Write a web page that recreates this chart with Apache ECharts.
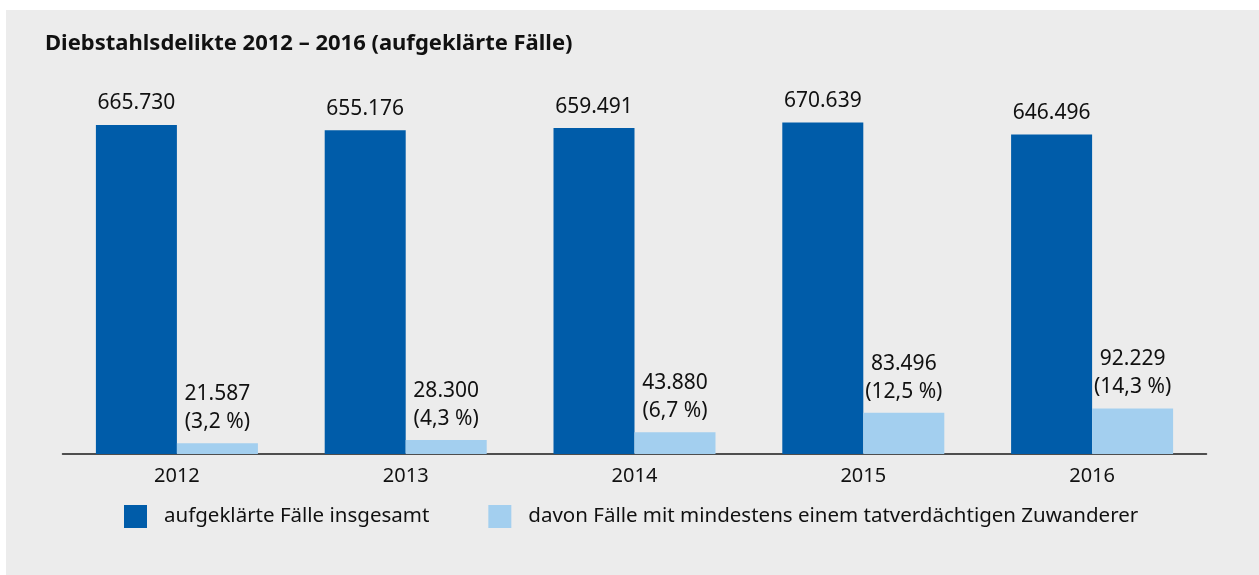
<!DOCTYPE html>
<html>
<head>
<meta charset="utf-8">
<script src="https://cdn.jsdelivr.net/npm/echarts@6/dist/echarts.min.js"></script>
<style>
html,body{margin:0;padding:0;background:#fff;}
#c{width:1259px;height:575px;}
</style>
</head>
<body>
<div id="c"></div>
<script>
var categories = ['2012','2013','2014','2015','2016'];
var totalCases = [665730, 655176, 659491, 670639, 646496];
var migrantCases = [21587, 28300, 43880, 83496, 92229];
var migrantShare = ['3,2', '4,3', '6,7', '12,5', '14,3'];
var seriesNames = ['aufgeklärte Fälle insgesamt', 'davon Fälle mit mindestens einem tatverdächtigen Zuwanderer'];
var titleText = 'Diebstahlsdelikte 2012 – 2016 (aufgeklärte Fälle)';

function fmt(v){ return String(v).replace(/\B(?=(\d{3})+(?!\d))/g, '.'); }

var FONT = '"Noto Sans", sans-serif';
var chart = echarts.init(document.getElementById('c'));
chart.setOption({
  backgroundColor: '#ffffff',
  animation: false,
  textStyle: { fontFamily: FONT },
  graphic: [{
    type: 'rect', z: -10, silent: true,
    shape: { x: 6, y: 10, width: 1253, height: 565 },
    style: { fill: '#ececec' }
  }],
  title: {
    text: titleText, left: 40, top: 28,
    textStyle: { fontFamily: FONT, fontWeight: 'bold', fontSize: 22, color: '#111' }
  },
  legend: {
    left: 119, top: 500, itemWidth: 23, itemHeight: 23, itemGap: 59,
    icon: 'rect',
    textStyle: { fontFamily: FONT, fontSize: 20.5, color: '#111', padding: [0,0,0,12] },
    data: seriesNames
  },
  grid: { left: 62.5, right: 52.5, top: 108, bottom: 121, containLabel: false },
  xAxis: {
    type: 'category', data: categories,
    axisLine: { lineStyle: { color: '#1a1a1a', width: 1.5 } },
    axisTick: { show: false },
    axisLabel: { fontFamily: FONT, fontSize: 20, color: '#111', margin: 12 }
  },
  yAxis: { type: 'value', min: 0, max: 700000, show: false, splitLine: { show: false } },
  series: [
    {
      name: seriesNames[0], type: 'bar', data: totalCases,
      barWidth: 81, barGap: '0%',
      itemStyle: { color: '#005ca9' },
      label: {
        show: true, position: 'top', distance: 11,
        fontFamily: FONT, fontSize: 21, color: '#111',
        formatter: function(p){ return fmt(p.value); }
      }
    },
    {
      name: seriesNames[1], type: 'bar', data: migrantCases,
      barWidth: 81,
      itemStyle: { color: '#a3cfef' },
      label: {
        show: true, position: 'top', distance: 7,
        fontFamily: FONT, fontSize: 21, color: '#111', lineHeight: 28,
        formatter: function(p){ return fmt(p.value) + '\n(' + migrantShare[p.dataIndex] + ' %)'; }
      }
    }
  ]
});
</script>
</body>
</html>
